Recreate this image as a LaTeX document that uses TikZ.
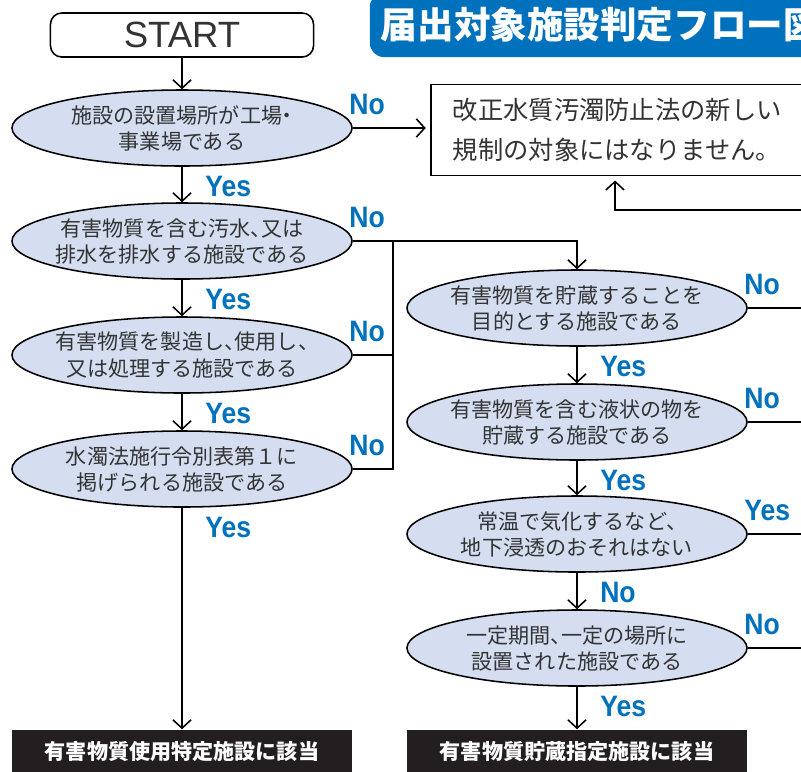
\documentclass[tikz,border=0pt]{standalone}
\usepackage{fontspec}
\setmainfont{Noto Sans CJK JP}
\newfontfamily\ynfont[FakeStretch=0.9]{Liberation Sans}
\newfontfamily\startfont{Liberation Sans}
\usetikzlibrary{arrows.meta,shapes.geometric,calc,positioning}
\definecolor{flowblue}{HTML}{0071BC}
\definecolor{qfill}{HTML}{D4DEF0}
\definecolor{txtgray}{HTML}{333333}
\definecolor{resblack}{HTML}{231F20}
\tikzset{
	question/.style={ellipse,draw=black,fill=qfill,minimum width=8.5cm,minimum height=1.9cm,inner xsep=-1.5cm,inner ysep=-0.3cm,align=center,text=txtgray,font=\fontsize{15}{18.5}\selectfont\addfontfeature{RawFeature=+halt}},
	result/.style={fill=resblack,text=white,minimum width=8.5cm,minimum height=1.1cm,inner sep=0pt,font=\bfseries\fontsize{15}{18}\selectfont},
	yn/.style={text=flowblue,inner sep=0pt,font=\ynfont\bfseries\fontsize{21}{21}\selectfont},
	downlbl/.style={yn,pos=0,anchor=north west,xshift=16pt,yshift=-6pt},
	sidelbl/.style={yn,pos=0,anchor=south west,xshift=-3pt,yshift=9pt},
}
\begin{document}
\begin{tikzpicture}[x=0.025cm,y=-0.025cm,line width=1.1pt,>={Straight Barb[length=6pt,width=13pt]}]
		\useasboundingbox (0,0) rectangle (801,771);
		\clip (0,0) rectangle (801,771);
		% title and start
		\node[fill=flowblue,rounded corners=10pt,anchor=west,minimum height=1.6cm,inner xsep=0.28cm,text=white,font=\bfseries\fontsize{26}{26}\selectfont] (title) at (369,25) {届出対象施設判定フロー図};
		\node[draw,rounded corners=8pt,minimum width=6.575cm,minimum height=1.1cm,text=txtgray,font=\startfont\fontsize{26}{26}\selectfont] (start) at (182,35) {START};
		% left column
		\node[question] (q1) at (182,128) {施設の設置場所が工場・\\事業場である};
		\node[question] (q2) at (182,241) {有害物質を含む汚水、又は\\排水を排水する施設である};
		\node[question] (q3) at (182,355) {有害物質を製造し、使用し、\\又は処理する施設である};
		\node[question] (q4) at (182,469) {水濁法施行令別表第１に\\掲げられる施設である};
		\node[result] (use) at (182,752) {有害物質使用特定施設に該当};
		% right column
		\node[question] (r1) at (577,308) {有害物質を貯蔵することを\\目的とする施設である};
		\node[question] (r2) at (577,422) {有害物質を含む液状の物を\\貯蔵する施設である};
		\node[question] (r3) at (577,534) {常温で気化するなど、\\地下浸透のおそれはない};
		\node[question] (r4) at (577,648) {一定期間、一定の場所に\\設置された施設である};
		\node[result] (store) at (577,752) {有害物質貯蔵指定施設に該当};
		% not covered
		\node[draw,anchor=west,minimum height=2.275cm,text width=11cm,inner xsep=0.55cm,align=left,text=txtgray,font=\fontsize{18}{28}\selectfont] (notreg) at (430,130) {改正水質汚濁防止法の新しい\\規制の対象にはなりません。};
		\path
			(393,241) coordinate (bus)
			(840,0) coordinate (rim)
			(615,210) coordinate (back)
			;
		% connectors
		\draw[->] (start) -- (q1);
		\draw[->] (q1) -- (q2) node[downlbl] {Yes};
		\draw[->] (q2) -- (q3) node[downlbl] {Yes};
		\draw[->] (q3) -- (q4) node[downlbl] {Yes};
		\draw[->] (q4) -- (use) node[downlbl] {Yes};
		\draw[->,shorten >=3pt] (q1.east) -- (q1.east -| notreg.west) node[sidelbl] {No};
		\draw[->] (q2.east) -| (r1.north) node[sidelbl] {No};
		\draw (q3.east) -- (q3.east -| bus) node[sidelbl] {No};
		\draw (q4.east) -| (bus) node[sidelbl] {No};
		\draw[->] (r1) -- (r2) node[downlbl] {Yes};
		\draw[->] (r2) -- (r3) node[downlbl] {Yes};
		\draw[->] (r3) -- (r4) node[downlbl] {No};
		\draw[->] (r4) -- (store) node[downlbl] {Yes};
		\draw (r1.east) -- (r1.east -| rim) node[sidelbl] {No};
		\draw (r2.east) -- (r2.east -| rim) node[sidelbl] {No};
		\draw (r3.east) -- (r3.east -| rim) node[sidelbl] {Yes};
		\draw (r4.east) -- (r4.east -| rim) node[sidelbl] {No};
		\draw[->,shorten >=3pt] (back -| rim) -- (back) -- (back |- notreg.south);
	\end{tikzpicture}
\end{document}
